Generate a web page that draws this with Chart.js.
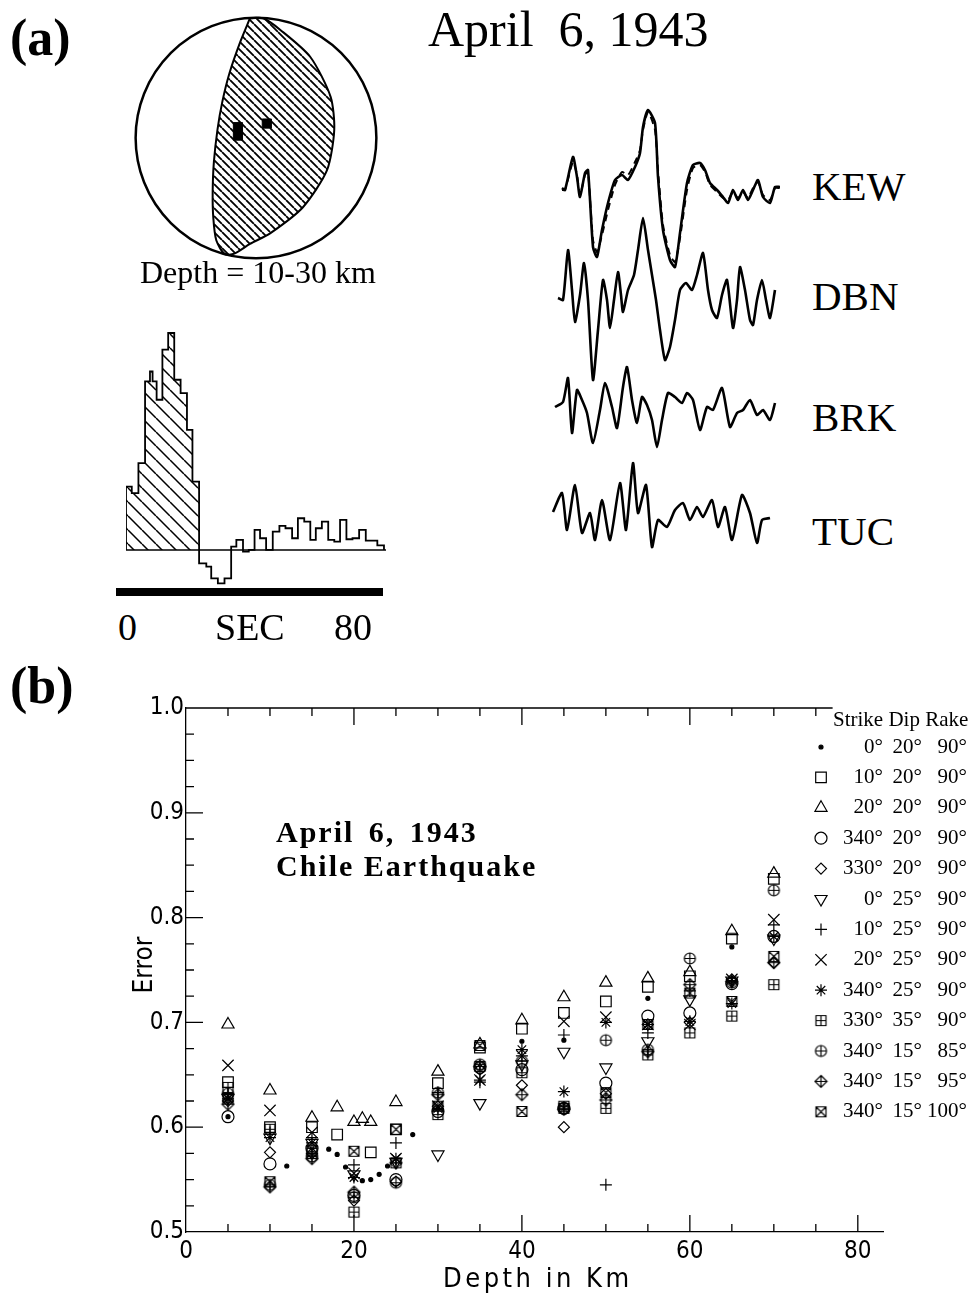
<!DOCTYPE html>
<html>
<head>
<meta charset="utf-8">
<title>April 6, 1943 Chile Earthquake</title>
<script src="https://cdn.jsdelivr.net/npm/chart.js@4.4.1/dist/chart.umd.min.js"></script>
<style>
  html, body { margin: 0; padding: 0; background: #fff; }
  body { width: 972px; height: 1296px; position: relative; overflow: hidden; font-family: "Liberation Serif", "DejaVu Serif", serif; color: #000; }
  canvas { position: absolute; }
  .txt { position: absolute; white-space: nowrap; line-height: 1; }
  .lbl { font-size: 41px; }
  .narrow { font-family: "Liberation Sans Narrow", "DejaVu Sans Condensed", "Liberation Sans", sans-serif; }
</style>
</head>
<body>

<div class="txt" style="left:10px;top:12px;font-size:52px;font-weight:bold;">(a)</div>
<div class="txt" style="left:428px;top:4px;font-size:50px;">April&nbsp; 6, 1943</div>
<canvas id="ball" width="260" height="260" style="left:126px;top:8px;"></canvas>
<div class="txt" style="left:140px;top:256px;font-size:32px;">Depth = 10-30 km</div>

<canvas id="stf" width="300" height="272" style="left:100px;top:320px;"></canvas>
<div style="position:absolute;left:116px;top:588px;width:267px;height:8px;background:#000;"></div>
<div class="txt" style="left:118px;top:608px;font-size:38px;">0</div>
<div class="txt" style="left:215px;top:608px;font-size:38px;">SEC</div>
<div class="txt" style="left:334px;top:608px;font-size:38px;">80</div>

<canvas id="waves" width="235" height="480" style="left:550px;top:90px;"></canvas>
<div class="txt lbl" style="left:812px;top:166px;">KEW</div>
<div class="txt lbl" style="left:812px;top:276px;">DBN</div>
<div class="txt lbl" style="left:812px;top:397px;">BRK</div>
<div class="txt lbl" style="left:812px;top:511px;">TUC</div>

<div class="txt" style="left:10px;top:660px;font-size:52px;font-weight:bold;">(b)</div>
<canvas id="errChart" width="872" height="606" style="left:100px;top:690px;"></canvas>
<div class="txt" style="left:276px;top:817px;font-size:30px;font-weight:bold;letter-spacing:2px;word-spacing:5px;">April 6, 1943</div>
<div class="txt" style="left:276px;top:851px;font-size:30px;font-weight:bold;letter-spacing:2px;">Chile Earthquake</div>
<div class="txt narrow" style="left:443px;top:1264px;font-size:27px;letter-spacing:3.5px;">Depth in Km</div>
<div class="txt narrow" style="left:103px;top:950px;width:80px;height:30px;line-height:30px;text-align:center;font-size:26px;transform:rotate(-90deg);">Error</div>

<script>
// ---------- (b) error vs depth ----------
const depths = [5, 10, 15, 20, 25, 30, 35, 40, 45, 50, 55, 60, 65, 70];

const dotDepth = [5, 12, 17, 18, 19, 21, 22, 23, 24, 27, 40, 45, 55, 65];
const dotErr = [0.610, 0.563, 0.579, 0.574, 0.562, 0.549, 0.550, 0.555, 0.563, 0.593, 0.682, 0.683, 0.723, 0.772];

const sqDepth = [5, 10, 15, 18, 22, 25, 30, 35, 40, 45, 50, 55, 60, 65, 70];
const sqErr = [0.643, 0.600, 0.600, 0.593, 0.576, 0.598, 0.642, 0.676, 0.694, 0.709, 0.720, 0.734, 0.744, 0.780, 0.837];

const triDepth = [5, 10, 15, 18, 20, 21, 22, 25, 30, 35, 40, 45, 50, 55, 60, 65, 70];
const triErr = [0.698, 0.635, 0.609, 0.619, 0.605, 0.608, 0.605, 0.624, 0.653, 0.679, 0.702, 0.724, 0.738, 0.742, 0.748, 0.787, 0.842];

const circErr = [0.610, 0.565, 0.580, 0.535, 0.550, 0.615, 0.657, 0.655, 0.618, 0.642, 0.706, 0.709, 0.737, 0.782];
const diaErr = [0.625, 0.576, 0.575, 0.530, 0.548, 0.620, 0.655, 0.640, 0.600, 0.632, 0.698, 0.700, 0.741, 0.757];
const downErr = [0.628, 0.590, 0.585, 0.555, 0.567, 0.574, 0.623, 0.660, 0.672, 0.657, 0.682, 0.722, 0.740, 0.780];
const plusErr = [0.632, 0.595, 0.590, 0.564, 0.585, 0.633, 0.643, 0.668, 0.688, 0.545, 0.690, 0.730, 0.740, 0.793];
const xErr = [0.659, 0.616, 0.595, 0.556, 0.570, 0.620, 0.645, 0.668, 0.701, 0.705, 0.698, 0.698, 0.741, 0.798];
const astErr = [0.627, 0.590, 0.585, 0.552, 0.570, 0.618, 0.645, 0.674, 0.634, 0.700, 0.698, 0.701, 0.718, 0.782];
const sqPlusErr = [0.638, 0.598, 0.575, 0.519, 0.566, 0.612, 0.658, 0.652, 0.620, 0.618, 0.669, 0.690, 0.706, 0.736];
const circPlusErr = [0.632, 0.545, 0.572, 0.533, 0.547, 0.633, 0.660, 0.663, 0.618, 0.683, 0.674, 0.761, 0.738, 0.826];
const diaPlusErr = [0.622, 0.543, 0.570, 0.538, 0.566, 0.631, 0.658, 0.631, 0.617, 0.626, 0.672, 0.736, 0.739, 0.757];
const sqXErr = [0.628, 0.548, 0.578, 0.577, 0.598, 0.620, 0.678, 0.615, 0.618, 0.633, 0.698, 0.728, 0.720, 0.763];

const strikes = [0, 10, 20, 340, 330, 0, 10, 20, 340, 330, 340, 340, 340];
const dips = [20, 20, 20, 20, 20, 25, 25, 25, 25, 35, 15, 15, 15];
const rakes = [90, 90, 90, 90, 90, 90, 90, 90, 90, 90, 85, 95, 100];

const xTicksLabelled = [0, 20, 40, 60, 80];
const topAxisEnd = 77;

// ---------- (a) source time function ----------
const stfTime = [0, 2.0, 4.3, 6.6, 8.3, 9.2, 10.6, 12.6, 14.6, 16.7, 18.9, 21.1, 23.0, 25.3, 27.8, 29.5, 31.8, 34.1, 36.4, 38.2, 40.5,
  42.5, 44.5, 46.4, 48.5, 50.8, 53.1, 55.2, 57.5, 59.5, 61.7, 63.8, 65.7, 67.8, 70.0, 72.1, 74.1, 76.3, 78.4, 80.7, 83.0, 87.0, 89.3];
const stfValue = [190, 170, 260, 505, 535, 505, 450, 600, 650, 510, 470, 360, 205, -40, -50, -85, -100, -85, 10, 30, -5,
  0, 60, 35, 0, 55, 72, 65, 35, 95, 85, 30, 65, 85, 30, 25, 90, 32, 35, 60, 28, 14];
const hatchSteps = 13;

// ---------- (a) waveforms (observed solid, synthetic dashed) ----------
const kewT = [9, 12, 20, 24, 27, 32, 35, 40, 44, 49, 55, 62, 69, 75, 82, 87, 90, 95, 102, 105, 110, 117, 122, 127, 134, 140, 147, 152, 157, 164, 170, 175, 180, 185, 190, 195, 200, 205, 210, 217, 222, 227];
const kewAmp = [2, 0, 33, 13, -7, 17, 20, -57, -67, -40, -13, 10, 15, 10, 23, 37, 63, 80, 67, 13, -40, -70, -77, -43, 7, 25, 27, 20, 7, 0, -7, -13, 0, -10, 0, -10, 0, 10, -7, -13, 3, 3];
const kewSyn = [0, 0, 28, 15, -5, 15, 18, -50, -62, -45, -20, 5, 18, 15, 28, 40, 60, 78, 60, 20, -35, -65, -72, -48, 0, 22, 25, 18, 5, -2, -8, -10, -2, -8, -2, -8, 2, 8, -5, -10, 2, 2];

const dbnT = [5, 10, 15, 19, 22, 27, 31, 35, 40, 45, 50, 54, 57, 61, 65, 68, 70, 75, 81, 85, 90, 95, 99, 103, 107, 112, 117, 122, 127, 133, 139, 144, 150, 155, 159, 164, 169, 174, 180, 184, 187, 192, 197, 200, 204, 209, 213, 217, 222];
const dbnAmp = [-1, -3, 47, 7, -25, 2, 34, -3, -83, -33, 17, -3, -31, -3, 25, 2, -15, 7, 22, 47, 79, 47, 22, -3, -33, -63, -50, -23, 7, 14, 7, 22, 44, 7, -13, -21, 2, 17, -31, -3, 30, 7, -23, -28, -3, 17, -3, -21, 7];

const brkT = [2, 10, 15, 19, 24, 29, 34, 40, 47, 52, 59, 64, 70, 74, 79, 84, 89, 94, 99, 104, 109, 115, 122, 129, 134, 140, 147, 154, 160, 169, 177, 184, 190, 197, 204, 210, 217, 222];
const brkAmp = [3, 8, 32, -23, 20, 10, -3, -33, 0, 27, 3, -18, 23, 43, 10, -13, 13, 5, -10, -37, -10, 17, 13, 7, 17, 10, -20, 3, 0, 22, -17, -3, 0, 10, -5, 0, -10, 7];

const tucT = [0, 9, 14, 22, 29, 37, 42, 49, 57, 67, 73, 80, 85, 93, 99, 105, 114, 122, 130, 137, 144, 150, 159, 165, 172, 179, 189, 197, 204, 209, 217];
const tucAmp = [3, 22, -15, 30, -18, 2, -25, 15, -25, 32, -15, 52, 2, 30, -32, -5, -12, 5, 12, -5, 8, -2, 15, -12, 8, -25, 20, 2, -28, -5, -3];

// ---------- (a) focal mechanism ----------
const ballX = [-0.05, -0.13, -0.22, -0.28, -0.32, -0.35, -0.36, -0.355, -0.33, -0.26, -0.18, -0.05, 0.12, 0.39, 0.59, 0.65, 0.62, 0.45, 0.2, 0.06, -0.05];
const ballY = [0.995, 0.80, 0.54, 0.30, 0.07, -0.20, -0.45, -0.66, -0.85, -0.965, -0.96, -0.88, -0.79, -0.575, -0.267, 0.067, 0.342, 0.675, 0.90, 0.995, 0.995];
const axisX = [-0.15, -0.15, 0.09];
const axisY = [0.09, 0.02, 0.12];

// ---------- helpers ----------
function pts(xs, ys) {
  return xs.map((x, i) => ({ x: x, y: ys[i] })).filter(p => p.y != null);
}

function hatch(canvasId, size, lw) {
  const c = document.createElement('canvas');
  c.width = size; c.height = size;
  const g = c.getContext('2d');
  g.strokeStyle = '#000';
  g.lineWidth = lw;
  g.beginPath();
  [-size, 0, size].forEach(o => { g.moveTo(o, 0); g.lineTo(o + size, size); });
  g.stroke();
  return document.getElementById(canvasId).getContext('2d').createPattern(c, 'repeat');
}

function marker(draw) {
  const c = document.createElement('canvas');
  c.width = 15; c.height = 15;
  const g = c.getContext('2d');
  g.strokeStyle = '#000';
  g.lineWidth = 1.2;
  g.beginPath();
  draw(g);
  g.stroke();
  return c;
}

const sqPlusImg = marker(g => {
  g.rect(2.5, 2.5, 10, 10);
  g.moveTo(7.5, 2.5); g.lineTo(7.5, 12.5);
  g.moveTo(2.5, 7.5); g.lineTo(12.5, 7.5);
});
const circPlusImg = marker(g => {
  g.arc(7.5, 7.5, 5.5, 0, Math.PI * 2);
  g.moveTo(7.5, 2); g.lineTo(7.5, 13);
  g.moveTo(2, 7.5); g.lineTo(13, 7.5);
});
const diaPlusImg = marker(g => {
  g.moveTo(7.5, 1.5); g.lineTo(13.5, 7.5); g.lineTo(7.5, 13.5); g.lineTo(1.5, 7.5); g.closePath();
  g.moveTo(7.5, 1.5); g.lineTo(7.5, 13.5);
  g.moveTo(1.5, 7.5); g.lineTo(13.5, 7.5);
});
const sqXImg = marker(g => {
  g.rect(2.5, 2.5, 10, 10);
  g.moveTo(2.5, 2.5); g.lineTo(12.5, 12.5);
  g.moveTo(12.5, 2.5); g.lineTo(2.5, 12.5);
});

const base = {
  responsive: false,
  animation: false,
  devicePixelRatio: 1,
  events: [],
  plugins: { legend: { display: false }, tooltip: { enabled: false } }
};

// ---------- focal sphere ----------
const ballOutline = {
  id: 'ballOutline',
  afterDatasetsDraw(chart) {
    const { ctx, scales: { x, y } } = chart;
    const cx = x.getPixelForValue(0), cy = y.getPixelForValue(0);
    const r = x.getPixelForValue(1) - cx;
    ctx.save();
    ctx.strokeStyle = '#000';
    ctx.lineWidth = 2.5;
    ctx.beginPath();
    ctx.arc(cx, cy, r, 0, Math.PI * 2);
    ctx.stroke();
    ctx.restore();
  }
};

new Chart(document.getElementById('ball'), {
  type: 'scatter',
  data: {
    datasets: [{
      data: pts(ballX, ballY),
      showLine: true,
      tension: 0.25,
      fill: 'shape',
      backgroundColor: hatch('ball', 8, 1.8),
      borderColor: '#000',
      borderWidth: 2,
      pointRadius: 0
    }, {
      data: pts(axisX, axisY),
      pointStyle: 'rect',
      pointRadius: 6.5,
      backgroundColor: '#000',
      borderColor: '#000'
    }]
  },
  options: Object.assign({}, base, {
    layout: { padding: 0, autoPadding: false },
    scales: {
      x: { type: 'linear', min: -1.08, max: 1.08, display: false },
      y: { type: 'linear', min: -1.08, max: 1.08, display: false }
    }
  }),
  plugins: [ballOutline]
});

// ---------- source time function ----------
const stfHead = [{ x: stfTime[0], y: 0 }];
for (let i = 0; i < hatchSteps; i++) stfHead.push({ x: stfTime[i], y: stfValue[i] });
stfHead.push({ x: stfTime[hatchSteps], y: 0 });

const stfTail = [{ x: stfTime[hatchSteps], y: 0 }];
for (let i = hatchSteps; i < stfValue.length; i++) stfTail.push({ x: stfTime[i], y: stfValue[i] });
stfTail.push({ x: stfTime[stfTime.length - 1], y: 0 });

new Chart(document.getElementById('stf'), {
  type: 'line',
  data: {
    datasets: [{
      data: stfHead,
      stepped: true,
      fill: 'origin',
      backgroundColor: hatch('stf', 14, 1.5),
      borderColor: '#000',
      borderWidth: 1.8,
      pointRadius: 0
    }, {
      data: stfTail,
      stepped: true,
      fill: false,
      borderColor: '#000',
      borderWidth: 1.8,
      pointRadius: 0
    }, {
      data: [{ x: 0, y: 0 }, { x: 90, y: 0 }],
      fill: false,
      borderColor: '#000',
      borderWidth: 1.5,
      pointRadius: 0
    }]
  },
  options: Object.assign({}, base, {
    layout: { padding: { left: 26, right: 14, top: 3, bottom: 2 }, autoPadding: false },
    scales: {
      x: { type: 'linear', min: 0, max: 90, display: false },
      y: { type: 'linear', min: -120, max: 680, display: false }
    }
  })
});

// ---------- waveforms ----------
const traceBase = { KEW: 380, DBN: 273, BRK: 160, TUC: 55 };
function trace(ts, amps, offset, dash, width) {
  return {
    data: ts.map((t, i) => ({ x: t, y: offset + amps[i] })),
    showLine: true,
    tension: 0.2,
    borderColor: '#000',
    borderWidth: width,
    borderDash: dash,
    pointRadius: 0,
    fill: false
  };
}

new Chart(document.getElementById('waves'), {
  type: 'scatter',
  data: {
    datasets: [
      trace(kewT, kewAmp, traceBase.KEW, [], 2.6),
      trace(kewT, kewSyn, traceBase.KEW, [7, 5], 2),
      trace(dbnT, dbnAmp, traceBase.DBN, [], 2.6),
      trace(brkT, brkAmp, traceBase.BRK, [], 2.6),
      trace(tucT, tucAmp, traceBase.TUC, [], 2.6)
    ]
  },
  options: Object.assign({}, base, {
    layout: { padding: 0, autoPadding: false },
    scales: {
      x: { type: 'linear', min: -3, max: 232, display: false },
      y: { type: 'linear', min: 0, max: 480, display: false }
    }
  })
});

// ---------- error plot ----------
const series = [
  { data: pts(dotDepth, dotErr), pointStyle: 'circle', pointRadius: 2, fill: '#000' },
  { data: pts(sqDepth, sqErr), pointStyle: 'rect', pointRadius: 7.5 },
  { data: pts(triDepth, triErr), pointStyle: 'triangle', pointRadius: 7 },
  { data: pts(depths, circErr), pointStyle: 'circle', pointRadius: 6 },
  { data: pts(depths, diaErr), pointStyle: 'rectRot', pointRadius: 5.5 },
  { data: pts(depths, downErr), pointStyle: 'triangle', pointRadius: 7, rotation: 180 },
  { data: pts(depths, plusErr), pointStyle: 'cross', pointRadius: 6 },
  { data: pts(depths, xErr), pointStyle: 'crossRot', pointRadius: 8 },
  { data: pts(depths, astErr), pointStyle: 'star', pointRadius: 6 },
  { data: pts(depths, sqPlusErr), pointStyle: sqPlusImg, pointRadius: 6 },
  { data: pts(depths, circPlusErr), pointStyle: circPlusImg, pointRadius: 6 },
  { data: pts(depths, diaPlusErr), pointStyle: diaPlusImg, pointRadius: 6 },
  { data: pts(depths, sqXErr), pointStyle: sqXImg, pointRadius: 6 }
];

const frameTicks = {
  id: 'frameTicks',
  afterDraw(chart) {
    const { ctx, chartArea: a, scales: { x, y } } = chart;
    const topEnd = x.getPixelForValue(topAxisEnd);
    ctx.save();
    ctx.strokeStyle = '#000';
    ctx.lineWidth = 1.3;
    ctx.beginPath();
    ctx.moveTo(a.left, a.top);
    ctx.lineTo(topEnd, a.top);
    x.ticks.forEach(t => {
      if (t.value % 5 !== 0 || t.value === 0) return;
      const px = x.getPixelForValue(t.value);
      const len = t.value % 20 === 0 ? 17 : 8;
      ctx.moveTo(px, a.bottom); ctx.lineTo(px, a.bottom - len);
      if (px <= topEnd) { ctx.moveTo(px, a.top); ctx.lineTo(px, a.top + len); }
    });
    y.ticks.forEach(t => {
      const k = Math.round(t.value * 1000);
      if (k % 25 !== 0 || k === 500) return;
      const py = y.getPixelForValue(t.value);
      const len = k % 100 === 0 ? 17 : 8;
      ctx.moveTo(a.left, py); ctx.lineTo(a.left + len, py);
    });
    ctx.stroke();
    ctx.restore();
  }
};

const legendTable = {
  id: 'legendTable',
  afterDraw(chart) {
    const { ctx, chartArea: a } = chart;
    const symX = a.right - 62;
    const strikeR = a.right;
    const dipR = a.right + 39;
    const rakeR = a.right + 84;
    ctx.save();
    ctx.fillStyle = '#000';
    ctx.font = '21px "Liberation Serif", "DejaVu Serif", serif';
    ctx.textBaseline = 'middle';
    ctx.textAlign = 'left';
    ctx.fillText('Strike Dip Rake', a.right - 50, a.top + 12);
    series.forEach((s, i) => {
      const yy = a.top + 39 + 30.4 * i;
      ctx.textAlign = 'right';
      ctx.fillStyle = '#000';
      ctx.fillText(strikes[i] + '°', strikeR, yy);
      ctx.fillText(dips[i] + '°', dipR, yy);
      ctx.fillText(rakes[i] + '°', rakeR, yy);
      ctx.strokeStyle = '#000';
      ctx.lineWidth = 1.2;
      ctx.fillStyle = s.fill || 'rgba(0,0,0,0)';
      Chart.helpers.drawPoint(ctx, {
        pointStyle: s.pointStyle,
        radius: s.pointRadius,
        rotation: s.rotation || 0,
        borderWidth: 1.2
      }, symX, yy);
    });
    ctx.restore();
  }
};

const tickFont = { family: '"Liberation Sans Narrow", "DejaVu Sans Condensed", "Liberation Sans", sans-serif', size: 24 };

new Chart(document.getElementById('errChart'), {
  type: 'scatter',
  data: {
    datasets: series.map(s => ({
      data: s.data,
      pointStyle: s.pointStyle,
      pointRadius: s.pointRadius,
      pointRotation: s.rotation || 0,
      pointBorderWidth: 1.2,
      borderColor: '#000',
      backgroundColor: s.fill || 'rgba(0,0,0,0)',
      showLine: false
    }))
  },
  options: Object.assign({}, base, {
    layout: { padding: { top: 18, right: 89, left: 0, bottom: 0 }, autoPadding: false },
    scales: {
      x: {
        type: 'linear',
        min: 0,
        max: 83,
        afterFit: s => { s.height = 64; },
        grid: { display: false, drawTicks: false },
        border: { display: true, color: '#000', width: 1.3 },
        ticks: {
          stepSize: 5,
          includeBounds: false,
          autoSkip: false,
          maxRotation: 0,
          padding: 5,
          color: '#000',
          font: tickFont,
          callback: v => xTicksLabelled.includes(v) ? String(v) : ''
        }
      },
      y: {
        type: 'linear',
        min: 0.5,
        max: 1.0,
        afterFit: s => { s.width = 86; },
        grid: { display: false, drawTicks: false },
        border: { display: true, color: '#000', width: 1.3 },
        ticks: {
          stepSize: 0.025,
          autoSkip: false,
          padding: 2,
          color: '#000',
          font: tickFont,
          callback: v => Math.round(v * 1000) % 100 === 0 ? v.toFixed(1) : ''
        }
      }
    }
  }),
  plugins: [frameTicks, legendTable]
});
</script>
</body>
</html>
